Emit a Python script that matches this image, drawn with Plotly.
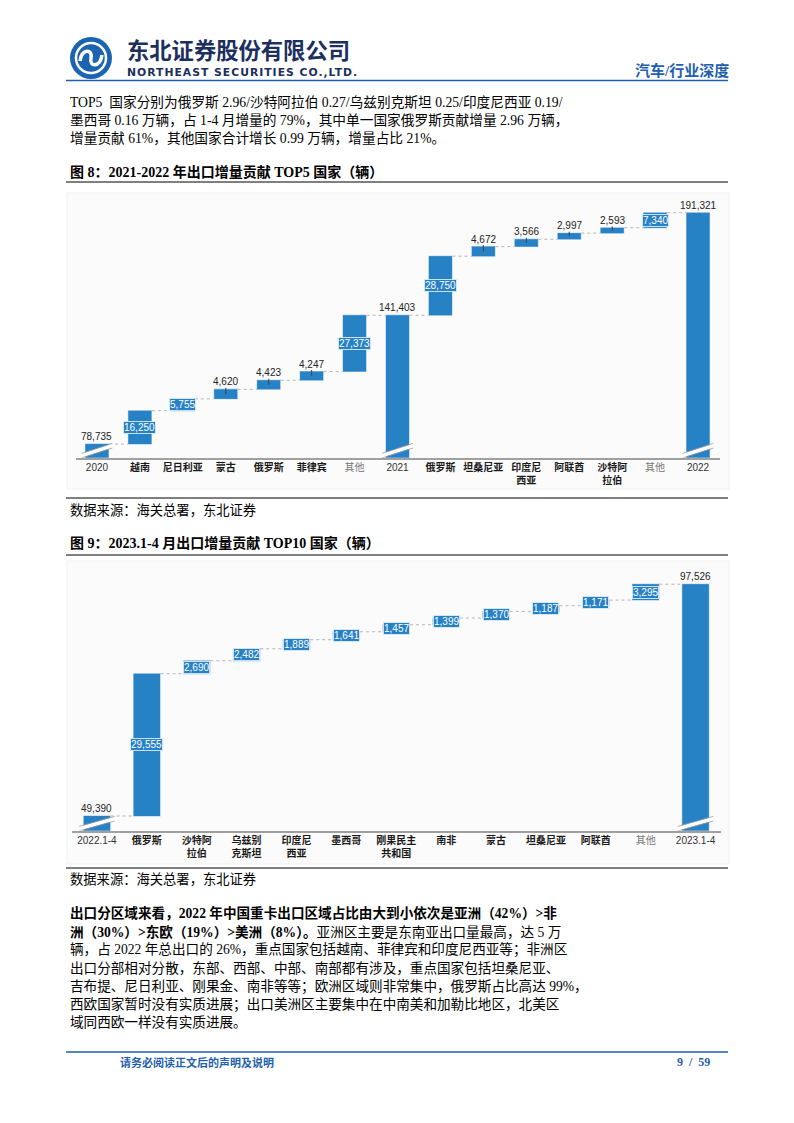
import plotly.graph_objects as go

W, H = 794, 1123

# ------------------------------------------------------------------ data
cats1 = ['2020', '越南', '尼日利亚', '蒙古', '俄罗斯', '菲律宾', '其他', '2021',
         '俄罗斯', '坦桑尼亚', '印度尼<br>西亚', '阿联酋', '沙特阿<br>拉伯', '其他', '2022']
vals1 = [78735, 16250, 5755, 4620, 4423, 4247, 27373, 141403,
         28750, 4672, 3566, 2997, 2593, 7340, 191321]
meas1 = ['absolute'] + ['relative'] * 6 + ['total'] + ['relative'] * 6 + ['total']
kind1 = ['y', 'c', 'c', 'c', 'c', 'c', 'o', 'y', 'c', 'c', 'c', 'c', 'c', 'o', 'y']
lab1 = ['out', 'in', 'in', 'out', 'out', 'out', 'in', 'out',
        'in', 'out', 'out', 'out', 'out', 'in', 'out']

cats2 = ['2022.1-4', '俄罗斯', '沙特阿<br>拉伯', '乌兹别<br>克斯坦', '印度尼<br>西亚', '墨西哥',
         '刚果民主<br>共和国', '南非', '蒙古', '坦桑尼亚', '阿联酋', '其他', '2023.1-4']
vals2 = [49390, 29555, 2690, 2482, 1889, 1641, 1457, 1399, 1370, 1187, 1171, 3295, 97526]
meas2 = ['absolute'] + ['relative'] * 11 + ['total']
kind2 = ['y', 'c', 'c', 'c', 'c', 'c', 'c', 'c', 'c', 'c', 'c', 'o', 'y']
lab2 = ['out'] + ['in'] * 11 + ['out']

body1 = [
    'TOP5  国家分别为俄罗斯 2.96/沙特阿拉伯 0.27/乌兹别克斯坦 0.25/印度尼西亚 0.19/',
    '墨西哥 0.16 万辆，占 1-4 月增量的 79%，其中单一国家俄罗斯贡献增量 2.96 万辆，',
    '增量贡献 61%，其他国家合计增长 0.99 万辆，增量占比 21%。',
]
body2 = [
    '<b>出口分区域来看，2022 年中国重卡出口区域占比由大到小依次是亚洲（42%）&gt;非</b>',
    '<b>洲（30%）&gt;东欧（19%）&gt;美洲（8%）。</b>亚洲区主要是东南亚出口量最高，达 5 万',
    '辆，占 2022 年总出口的 26%，重点国家包括越南、菲律宾和印度尼西亚等；非洲区',
    '出口分部相对分散，东部、西部、中部、南部都有涉及，重点国家包括坦桑尼亚、',
    '吉布提、尼日利亚、刚果金、南非等等；欧洲区域则非常集中，俄罗斯占比高达 99%，',
    '西欧国家暂时没有实质进展；出口美洲区主要集中在中南美和加勒比地区，北美区',
    '域同西欧一样没有实质进展。',
]
title1 = '图 8：2021-2022 年出口增量贡献 TOP5 国家（辆）'
title2 = '图 9：2023.1-4 月出口增量贡献 TOP10 国家（辆）'
source = '数据来源：海关总署，东北证券'

# ------------------------------------------------------------------ style
BLUE = '#2781c5'
SANS = 'Liberation Sans, Noto Sans CJK SC'
SERIF = 'Liberation Serif, Noto Sans CJK SC'
NAVY = '#1f5fae'


def px(x):
    return x / W


def py(y):
    return 1 - y / H


# chart geometry (page pixels)
C1 = dict(x0=75.5, x1=719.5, y0=197.0, y1=457.7, ymin=72100, ymax=198970)
C2 = dict(x0=72.0, x1=720.5, y0=567.0, y1=830.7, ymin=46338, ymax=101100)


def fmt_tick(lbl, kind):
    parts = lbl.split('<br>')
    if kind == 'c':
        return '<br>'.join(f"<b>{p}</b>" for p in parts)
    if kind == 'o':
        return '<br>'.join(f"<span style='color:#777777'>{p}</span>" for p in parts)
    return '<br>'.join(f"<span style='color:#333333'>{p}</span>" for p in parts)


fig = go.Figure()
shapes = []
annotations = []


def add_chart(cats, vals, meas, kinds, labs, geo, xa, ya, width, leaders):
    n = len(cats)
    mk = dict(marker=dict(color=BLUE, line=dict(color='rgba(255,255,255,0.55)', width=1)))
    fig.add_trace(go.Waterfall(
        x=list(range(n)), y=vals, measure=meas,
        xaxis=xa, yaxis=ya, width=width,
        increasing=mk, decreasing=mk, totals=mk,
        connector=dict(line=dict(color='#b5b5b5', width=1, dash='dot'), mode='between'),
        textinfo='none', hoverinfo='skip',
    ))
    k = (geo['ymax'] - geo['ymin']) / (geo['y1'] - geo['y0'])  # value per px
    run = 0
    for i, (v, m) in enumerate(zip(vals, meas)):
        if m == 'absolute':
            start, end = 0, v
            run = v
        elif m == 'relative':
            start, end = run, run + v
            run = end
        else:
            start, end = 0, run
        top = max(start, end)
        if labs[i] == 'out':
            annotations.append(dict(
                x=i, y=top, xref=xa, yref=ya, text=f"{v:,}", showarrow=False,
                yanchor='middle', yshift=7.5,
                font=dict(family=SANS, size=10, color='#222222')))
            if m == 'relative' and leaders:
                shapes.append(dict(type='line', xref=xa, yref=ya, x0=i, x1=i,
                                   y0=(start + end) / 2, y1=end + 1.5 * k,
                                   line=dict(color='#444444', width=1)))
        else:
            annotations.append(dict(
                x=i, y=(start + end) / 2, xref=xa, yref=ya, text=f"{v:,}", showarrow=False,
                yanchor='middle', bgcolor=BLUE, bordercolor='rgba(220,235,248,0.9)',
                borderwidth=1, borderpad=0,
                font=dict(family=SANS, size=10, color='white')))
        if m != 'relative':
            # axis-break marks on truncated bars
            base = geo['ymin']
            hw = width / 2 + 0.08
            for off, col, lw in ((0, 'white', 4), (-2.3, '#9a9a9a', 0.8), (2.3, '#9a9a9a', 0.8)):
                shapes.append(dict(type='line', xref=xa, yref=ya,
                                   x0=i - hw, x1=i + hw,
                                   y0=base + (2 + off) * k, y1=base + (12 + off) * k,
                                   line=dict(color=col, width=lw)))


add_chart(cats1, vals1, meas1, kind1, lab1, C1, 'x', 'y', 0.56, True)
add_chart(cats2, vals2, meas2, kind2, lab2, C2, 'x2', 'y2', 0.55, False)

axis_common = dict(showgrid=False, zeroline=False, ticks='', showline=True,
                   linecolor='#a0a0a0', linewidth=1.5, fixedrange=True,
                   tickfont=dict(family=SANS, size=10, color='#1a1a1a'))

fig.update_layout(
    width=W, height=H, margin=dict(l=0, r=0, t=0, b=0),
    paper_bgcolor='white', plot_bgcolor='rgba(0,0,0,0)', showlegend=False,
    xaxis=dict(domain=[px(C1['x0']), px(C1['x1'])], range=[-0.5, len(cats1) - 0.5],
               tickmode='array', tickvals=list(range(len(cats1))),
               ticktext=[fmt_tick(c, k) for c, k in zip(cats1, kind1)],
               anchor='y', **axis_common),
    yaxis=dict(domain=[py(C1['y1']), py(C1['y0'])], range=[C1['ymin'], C1['ymax']],
               visible=False, anchor='x'),
    xaxis2=dict(domain=[px(C2['x0']), px(C2['x1'])], range=[-0.5, len(cats2) - 0.5],
                tickmode='array', tickvals=list(range(len(cats2))),
                ticktext=[fmt_tick(c, k) for c, k in zip(cats2, kind2)],
                anchor='y2', **axis_common),
    yaxis2=dict(domain=[py(C2['y1']), py(C2['y0'])], range=[C2['ymin'], C2['ymax']],
                visible=False, anchor='x2'),
)


def text(x, y, s, size, color='#000000', family=SERIF, xanchor='left'):
    annotations.append(dict(x=px(x), y=py(y), xref='paper', yref='paper', text=s,
                            showarrow=False, xanchor=xanchor, yanchor='middle',
                            font=dict(family=family, size=size, color=color)))


def hline(y, color, width, x0=66, x1=728):
    shapes.append(dict(type='line', xref='paper', yref='paper', x0=px(x0), x1=px(x1),
                       y0=py(y), y1=py(y), line=dict(color=color, width=width)))


# chart background panels
for (y0, y1) in ((193, 489), (561, 864)):
    shapes.append(dict(type='rect', xref='paper', yref='paper', layer='below',
                       x0=px(67), x1=px(729), y0=py(y1), y1=py(y0),
                       fillcolor='#fbfbfb', line=dict(color='#f1f1f1', width=1)))

# ---- header
cx, cy, r = 91, 58, 21
shapes.append(dict(type='circle', xref='paper', yref='paper', x0=px(cx - r), x1=px(cx + r),
                   y0=py(cy + r), y1=py(cy - r), fillcolor='#1b64b2', line=dict(width=0)))
shapes.append(dict(type='circle', xref='paper', yref='paper', x0=px(cx - 15), x1=px(cx + 15),
                   y0=py(cy + 15), y1=py(cy - 15), line=dict(color='white', width=2.5)))
pts = [(-11, 3), (-9, -10), (2, -9), (0, 0), (-2, 9), (9, 10), (11, -3)]
P = [(px(cx + a), py(cy + b)) for a, b in pts]
path = (f"M {P[0][0]},{P[0][1]} C {P[1][0]},{P[1][1]} {P[2][0]},{P[2][1]} {P[3][0]},{P[3][1]} "
        f"C {P[4][0]},{P[4][1]} {P[5][0]},{P[5][1]} {P[6][0]},{P[6][1]}")
shapes.append(dict(type='path', xref='paper', yref='paper', path=path,
                   line=dict(color='white', width=3.5)))

text(125, 49.5, '<b>东北证券股份有限公司</b>', 22.3, '#1c2f5e', 'Noto Sans CJK SC')
text(125, 72, "<b><span style='letter-spacing:1px'>NORTHEAST SECURITIES CO.,LTD.</span></b>",
     10.8, '#1c2f5e', 'DejaVu Sans')
text(731, 70, '<b>汽车/行业深度</b>', 15, NAVY, SERIF, 'right')
hline(80.5, NAVY, 1.6)

# ---- body text
for i, s in enumerate(body1):
    text(68, 102 + i * 18, s, 13.7)
text(68, 172, f'<b>{title1}</b>', 14)
hline(182, '#000000', 1)
hline(498, '#000000', 1)
text(68, 510, source, 13.3)
text(68, 543.5, f'<b>{title2}</b>', 14)
hline(555, '#000000', 1)
hline(868, '#000000', 1)
text(68, 879, source, 13.3)
for i, s in enumerate(body2):
    text(68, 913.3 + i * 18.25, s, 13.6)

# ---- footer
hline(1052, NAVY, 1.6)
text(118, 1062, '<b>请务必阅读正文后的声明及说明</b>', 11, NAVY, SERIF)
text(712, 1062, '<b>9  /  59</b>', 12, NAVY, SERIF, 'right')

fig.update_layout(shapes=shapes, annotations=annotations)
fig.write_html('out.html')
